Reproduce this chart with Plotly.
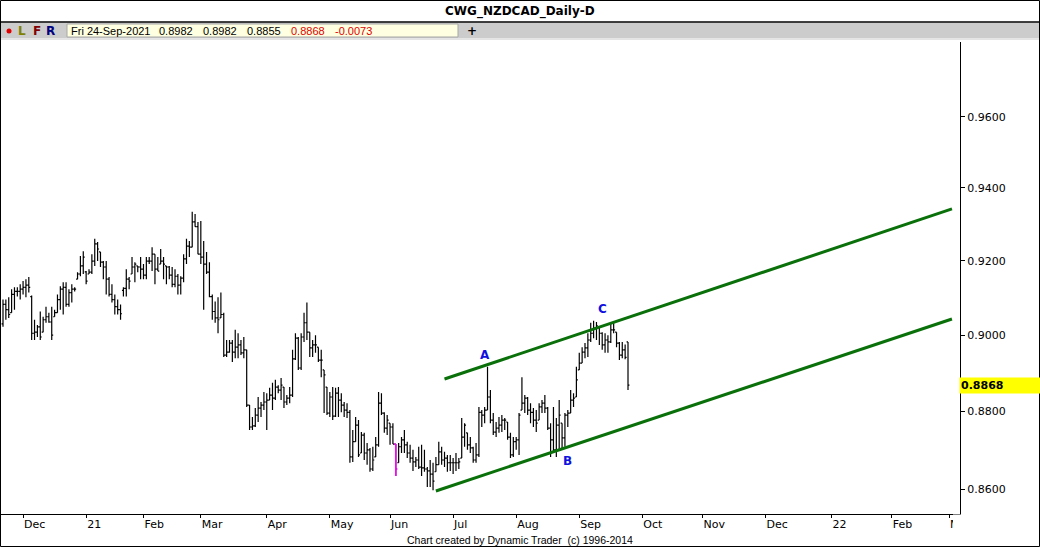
import math
import pandas as pd
import plotly.graph_objects as go

# ---------------- data ----------------
holidays = ["2020-12-25", "2021-01-01"]
first_day = "2020-11-20"
last_day = "2021-09-24"

opens = [
    0.9030, 0.9082, 0.9068, 0.9060, 0.9109, 0.9117, 0.9117, 0.9123, 0.9128, 0.9134,
    0.9103, 0.9005, 0.9008, 0.9022, 0.9008, 0.9041, 0.9049, 0.9035, 0.9049, 0.9060,
    0.9095, 0.9123, 0.9128, 0.9082, 0.9114, 0.9123, 0.9150, 0.9164, 0.9186, 0.9170,
    0.9164, 0.9169, 0.9199, 0.9246, 0.9224, 0.9196, 0.9183, 0.9150, 0.9109, 0.9095,
    0.9076, 0.9068, 0.9120, 0.9125, 0.9150, 0.9164, 0.9183, 0.9186, 0.9183, 0.9177,
    0.9161, 0.9199, 0.9199, 0.9218, 0.9177, 0.9191, 0.9199, 0.9186, 0.9183, 0.9161,
    0.9136, 0.9158, 0.9134, 0.9153, 0.9205, 0.9240, 0.9237, 0.9306, 0.9293, 0.9218,
    0.9210, 0.9191, 0.9169, 0.9103, 0.9063, 0.9046, 0.9046, 0.9055, 0.8947, 0.8955,
    0.8979, 0.8955, 0.8968, 0.8974, 0.8953, 0.8961, 0.8816, 0.8759, 0.8762, 0.8790,
    0.8808, 0.8816, 0.8824, 0.8829, 0.8842, 0.8834, 0.8863, 0.8855, 0.8863, 0.8824,
    0.8834, 0.8842, 0.8937, 0.8992, 0.8913, 0.8995, 0.9033, 0.9008, 0.8966, 0.8974,
    0.8968, 0.8934, 0.8908, 0.8863, 0.8795, 0.8837, 0.8787, 0.8847, 0.8829, 0.8816,
    0.8803, 0.8797, 0.8682, 0.8721, 0.8764, 0.8692, 0.8738, 0.8692, 0.8700, 0.8651,
    0.8682, 0.8713, 0.8821, 0.8795, 0.8756, 0.8769, 0.8759, 0.8715, 0.8667, 0.8708,
    0.8726, 0.8713, 0.8692, 0.8679, 0.8669, 0.8674, 0.8656, 0.8654, 0.8651, 0.8646,
    0.8638, 0.8644, 0.8662, 0.8695, 0.8674, 0.8679, 0.8667, 0.8667, 0.8667, 0.8667,
    0.8679, 0.8733, 0.8744, 0.8713, 0.8705, 0.8674, 0.8687, 0.8797, 0.8790, 0.8803,
    0.8837, 0.8777, 0.8746, 0.8756, 0.8764, 0.8777, 0.8772, 0.8733, 0.8687, 0.8721,
    0.8726, 0.8803, 0.8821, 0.8834, 0.8803, 0.8797, 0.8777, 0.8777, 0.8811, 0.8821,
    0.8808, 0.8756, 0.8726, 0.8700, 0.8764, 0.8769, 0.8731, 0.8790, 0.8795, 0.8829,
    0.8837, 0.8908, 0.8926, 0.8955, 0.8966, 0.8987, 0.9005, 0.9019, 0.9022, 0.9005,
    0.8974, 0.8987, 0.8982, 0.9014, 0.9008, 0.8979, 0.8947, 0.8961, 0.8982,
]
highs = [
    0.9095, 0.9095, 0.9101, 0.9123, 0.9128, 0.9128, 0.9136, 0.9145, 0.9150, 0.9156,
    0.9106, 0.9041, 0.9027, 0.9063, 0.9049, 0.9076, 0.9060, 0.9076, 0.9068, 0.9109,
    0.9131, 0.9142, 0.9142, 0.9123, 0.9136, 0.9128, 0.9169, 0.9213, 0.9226, 0.9172,
    0.9177, 0.9218, 0.9260, 0.9251, 0.9224, 0.9199, 0.9199, 0.9156, 0.9136, 0.9109,
    0.9095, 0.9082, 0.9128, 0.9177, 0.9156, 0.9210, 0.9196, 0.9186, 0.9210, 0.9191,
    0.9210, 0.9210, 0.9237, 0.9218, 0.9210, 0.9232, 0.9210, 0.9186, 0.9186, 0.9183,
    0.9177, 0.9164, 0.9158, 0.9218, 0.9260, 0.9254, 0.9334, 0.9328, 0.9306, 0.9309,
    0.9254, 0.9224, 0.9196, 0.9109, 0.9090, 0.9101, 0.9114, 0.9060, 0.8987, 0.8987,
    0.8987, 0.9014, 0.9005, 0.8987, 0.8995, 0.8961, 0.8816, 0.8785, 0.8808, 0.8837,
    0.8824, 0.8850, 0.8847, 0.8861, 0.8874, 0.8882, 0.8868, 0.8887, 0.8863, 0.8842,
    0.8863, 0.8961, 0.9005, 0.8995, 0.9005, 0.9060, 0.9087, 0.9008, 0.8987, 0.9000,
    0.8968, 0.8961, 0.8908, 0.8863, 0.8850, 0.8863, 0.8861, 0.8863, 0.8847, 0.8824,
    0.8821, 0.8803, 0.8751, 0.8785, 0.8777, 0.8746, 0.8744, 0.8718, 0.8705, 0.8708,
    0.8733, 0.8850, 0.8847, 0.8797, 0.8790, 0.8769, 0.8769, 0.8715, 0.8718, 0.8733,
    0.8751, 0.8721, 0.8713, 0.8700, 0.8682, 0.8708, 0.8713, 0.8700, 0.8656, 0.8674,
    0.8667, 0.8682, 0.8721, 0.8708, 0.8695, 0.8687, 0.8687, 0.8679, 0.8692, 0.8679,
    0.8782, 0.8769, 0.8744, 0.8733, 0.8708, 0.8718, 0.8811, 0.8803, 0.8811, 0.8916,
    0.8855, 0.8795, 0.8772, 0.8785, 0.8790, 0.8782, 0.8772, 0.8744, 0.8733, 0.8733,
    0.8795, 0.8889, 0.8842, 0.8837, 0.8821, 0.8808, 0.8803, 0.8821, 0.8829, 0.8842,
    0.8811, 0.8769, 0.8811, 0.8782, 0.8829, 0.8769, 0.8795, 0.8803, 0.8855, 0.8847,
    0.8916, 0.8953, 0.8968, 0.8979, 0.9005, 0.9033, 0.9038, 0.9035, 0.9022, 0.9008,
    0.9005, 0.9000, 0.9035, 0.9035, 0.9008, 0.8982, 0.8982, 0.8975, 0.8982,
]
lows = [
    0.9022, 0.9041, 0.9046, 0.9060, 0.9068, 0.9103, 0.9095, 0.9109, 0.9101, 0.9114,
    0.8987, 0.8987, 0.8995, 0.8987, 0.9008, 0.9033, 0.9033, 0.8987, 0.9049, 0.9060,
    0.9068, 0.9055, 0.9076, 0.9076, 0.9087, 0.9117, 0.9150, 0.9158, 0.9164, 0.9136,
    0.9164, 0.9164, 0.9186, 0.9199, 0.9183, 0.9150, 0.9109, 0.9103, 0.9087, 0.9055,
    0.9055, 0.9041, 0.9103, 0.9103, 0.9123, 0.9164, 0.9142, 0.9169, 0.9150, 0.9150,
    0.9150, 0.9191, 0.9172, 0.9136, 0.9172, 0.9191, 0.9150, 0.9136, 0.9150, 0.9128,
    0.9128, 0.9109, 0.9109, 0.9142, 0.9191, 0.9210, 0.9237, 0.9293, 0.9218, 0.9191,
    0.9068, 0.9164, 0.9101, 0.9041, 0.9033, 0.9005, 0.9046, 0.8942, 0.8942, 0.8953,
    0.8929, 0.8939, 0.8939, 0.8947, 0.8939, 0.8811, 0.8751, 0.8751, 0.8759, 0.8772,
    0.8785, 0.8803, 0.8751, 0.8829, 0.8803, 0.8829, 0.8847, 0.8829, 0.8808, 0.8816,
    0.8821, 0.8837, 0.8934, 0.8908, 0.8908, 0.8982, 0.8987, 0.8942, 0.8942, 0.8953,
    0.8929, 0.8889, 0.8795, 0.8790, 0.8785, 0.8777, 0.8785, 0.8785, 0.8797, 0.8785,
    0.8782, 0.8667, 0.8669, 0.8721, 0.8682, 0.8692, 0.8674, 0.8662, 0.8644, 0.8646,
    0.8682, 0.8708, 0.8790, 0.8744, 0.8738, 0.8713, 0.8715, 0.8633, 0.8667, 0.8692,
    0.8692, 0.8679, 0.8667, 0.8646, 0.8656, 0.8651, 0.8633, 0.8644, 0.8605, 0.8605,
    0.8597, 0.8644, 0.8662, 0.8662, 0.8656, 0.8644, 0.8646, 0.8638, 0.8646, 0.8651,
    0.8679, 0.8708, 0.8700, 0.8692, 0.8667, 0.8667, 0.8682, 0.8759, 0.8769, 0.8803,
    0.8769, 0.8738, 0.8733, 0.8744, 0.8746, 0.8751, 0.8726, 0.8679, 0.8682, 0.8700,
    0.8687, 0.8803, 0.8795, 0.8790, 0.8769, 0.8759, 0.8746, 0.8777, 0.8795, 0.8795,
    0.8751, 0.8682, 0.8692, 0.8682, 0.8700, 0.8705, 0.8708, 0.8759, 0.8795, 0.8811,
    0.8837, 0.8908, 0.8926, 0.8939, 0.8942, 0.8982, 0.8992, 0.8987, 0.8974, 0.8961,
    0.8953, 0.8953, 0.8979, 0.9005, 0.8968, 0.8934, 0.8939, 0.8936, 0.8855,
]
closes = [
    0.9082, 0.9068, 0.9055, 0.9109, 0.9117, 0.9117, 0.9123, 0.9128, 0.9134, 0.9128,
    0.9005, 0.9008, 0.9022, 0.8995, 0.9041, 0.9049, 0.9035, 0.9000, 0.9060, 0.9095,
    0.9123, 0.9128, 0.9082, 0.9114, 0.9123, 0.9123, 0.9164, 0.9186, 0.9210, 0.9145,
    0.9169, 0.9199, 0.9246, 0.9232, 0.9196, 0.9183, 0.9150, 0.9109, 0.9095, 0.9076,
    0.9068, 0.9057, 0.9125, 0.9150, 0.9145, 0.9183, 0.9191, 0.9183, 0.9177, 0.9161,
    0.9199, 0.9199, 0.9218, 0.9177, 0.9172, 0.9199, 0.9191, 0.9183, 0.9161, 0.9136,
    0.9158, 0.9134, 0.9153, 0.9205, 0.9240, 0.9237, 0.9306, 0.9293, 0.9218, 0.9210,
    0.9191, 0.9169, 0.9103, 0.9063, 0.9046, 0.9041, 0.9055, 0.8947, 0.8955, 0.8979,
    0.8955, 0.8968, 0.8974, 0.8953, 0.8961, 0.8816, 0.8759, 0.8762, 0.8790, 0.8808,
    0.8816, 0.8824, 0.8829, 0.8842, 0.8834, 0.8863, 0.8855, 0.8868, 0.8824, 0.8834,
    0.8842, 0.8937, 0.8992, 0.8913, 0.8995, 0.9033, 0.9008, 0.8966, 0.8974, 0.8974,
    0.8934, 0.8934, 0.8895, 0.8795, 0.8837, 0.8787, 0.8847, 0.8829, 0.8816, 0.8803,
    0.8797, 0.8682, 0.8721, 0.8764, 0.8687, 0.8738, 0.8692, 0.8700, 0.8651, 0.8674,
    0.8713, 0.8821, 0.8795, 0.8756, 0.8777, 0.8759, 0.8715, 0.8651, 0.8708, 0.8726,
    0.8713, 0.8692, 0.8679, 0.8669, 0.8674, 0.8656, 0.8654, 0.8651, 0.8646, 0.8638,
    0.8620, 0.8662, 0.8695, 0.8674, 0.8679, 0.8667, 0.8667, 0.8667, 0.8667, 0.8669,
    0.8733, 0.8764, 0.8713, 0.8705, 0.8674, 0.8687, 0.8797, 0.8790, 0.8803, 0.8837,
    0.8777, 0.8746, 0.8756, 0.8764, 0.8777, 0.8777, 0.8733, 0.8687, 0.8721, 0.8726,
    0.8790, 0.8821, 0.8834, 0.8803, 0.8797, 0.8777, 0.8769, 0.8811, 0.8821, 0.8808,
    0.8756, 0.8726, 0.8700, 0.8764, 0.8790, 0.8731, 0.8790, 0.8795, 0.8829, 0.8834,
    0.8882, 0.8926, 0.8955, 0.8966, 0.8987, 0.9005, 0.9019, 0.9025, 0.9005, 0.8974,
    0.8987, 0.8982, 0.9014, 0.9014, 0.8979, 0.8947, 0.8961, 0.8941, 0.8868,
]
highlight_bar = 137  # bar drawn in magenta

month_ticks = ["2020-12-01", "2021-01-04", "2021-02-01", "2021-03-01", "2021-04-01",
               "2021-05-03", "2021-06-01", "2021-07-01", "2021-08-02", "2021-09-01",
               "2021-10-01", "2021-11-01", "2021-12-01", "2022-01-03", "2022-02-01",
               "2022-03-01"]
month_labels = ["Dec", "21", "Feb", "Mar", "Apr", "May", "Jun", "Jul", "Aug", "Sep",
                "Oct", "Nov", "Dec", "22", "Feb", "Mar"]
price_ticks = [0.86, 0.88, 0.90, 0.92, 0.94, 0.96]

upper_line_dates = ["2021-06-28", "2022-03-02"]
upper_line_prices = [0.8884, 0.9342]
lower_line_dates = ["2021-06-23", "2022-03-02"]
lower_line_prices = [0.8595, 0.9043]

wave_labels = ["A", "B", "C"]
wave_dates = ["2021-07-16", "2021-08-26", "2021-09-13"]
wave_prices = [0.8947, 0.8672, 0.9071]

chart_title = "CWG_NZDCAD_Daily-D"
footer_text = "Chart created by Dynamic Trader  (c) 1996-2014"

# ---------------- build ----------------
dates = pd.bdate_range(first_day, last_day)
dates = dates[~dates.isin(pd.to_datetime(holidays))]

W, H = 1040, 547
ML, MR, MT, MB = 0, 80, 42, 33
PW, PH = W - ML - MR, H - MT - MB


def px(x):
    return (x - ML) / PW


def py(y):
    return (H - MB - y) / PH


BAR = dict(color="black", width=1.2)
fig = go.Figure()
fig.add_trace(go.Ohlc(
    x=dates, open=opens, high=highs, low=lows, close=closes,
    increasing=dict(line=BAR), decreasing=dict(line=BAR),
    tickwidth=0.5, hoverinfo="skip", showlegend=False))

hb = highlight_bar
MAG = dict(color="#ff00ff", width=1.5)
fig.add_trace(go.Ohlc(
    x=[dates[hb], dates[hb + 1]],
    open=[opens[hb], None], high=[highs[hb], None],
    low=[lows[hb], None], close=[closes[hb], None],
    increasing=dict(line=MAG), decreasing=dict(line=MAG),
    tickwidth=0.5, hoverinfo="skip", showlegend=False))

GREEN = "#0a700a"
for xs, ys in ((upper_line_dates, upper_line_prices), (lower_line_dates, lower_line_prices)):
    fig.add_trace(go.Scatter(x=xs, y=ys, mode="lines",
                             line=dict(color=GREEN, width=3),
                             hoverinfo="skip", showlegend=False))

BOLD = "DejaVu Sans"
annotations = []
# annotations on a log axis take log10 positions
for t, d, p in zip(wave_labels, wave_dates, wave_prices):
    annotations.append(dict(x=d, y=math.log10(p), xref="x", yref="y", text=f"<b>{t}</b>",
                            showarrow=False, xanchor="center", yanchor="middle",
                            font=dict(family=BOLD, size=12, color="#1010e0")))


def paper_text(x, y, text, font, xanchor="center"):
    return dict(x=px(x), y=py(y), xref="paper", yref="paper", text=text,
                showarrow=False, xanchor=xanchor, yanchor="middle", font=font)


# title
annotations.append(paper_text(520, 11, f"<b>{chart_title}</b>",
                              dict(family=BOLD, size=12, color="black")))
# info bar
info_font = dict(family="Liberation Sans", size=11, color="black")
red_font = dict(family="Liberation Sans", size=11, color="#e00000")
change = closes[-1] - closes[-2]
info_items = [
    (69, dates[-1].strftime("%a %d-%b-%Y"), info_font),
    (157, f"{opens[-1]:.4f}", info_font),
    (201, f"{highs[-1]:.4f}", info_font),
    (245, f"{lows[-1]:.4f}", info_font),
    (289, f"{closes[-1]:.4f}", red_font),
    (333, f"{change:.4f}", red_font),
]
for x, t, f in info_items:
    annotations.append(paper_text(x, 31, t, f, xanchor="left"))
for x, t, c in ((22, "L", "#808000"), (37, "F", "#800000"), (50, "R", "#000080"), (472, "+", "black")):
    annotations.append(paper_text(x, 31, f"<b>{t}</b>", dict(family=BOLD, size=12, color=c)))
# last price label
annotations.append(dict(x=px(959), y=math.log10(closes[-1]), xref="paper", yref="y",
                        text=f"<b>{closes[-1]:.4f}</b>", showarrow=False,
                        xanchor="left", yanchor="middle", align="left",
                        width=79, height=13, bgcolor="#ffff00", borderpad=1,
                        font=dict(family=BOLD, size=11, color="black")))
# footer
annotations.append(paper_text(520, 540, footer_text,
                              dict(family="Liberation Sans", size=10.5, color="black")))

shapes = [
    # grey info bar
    dict(type="rect", xref="paper", yref="paper", x0=px(1), x1=px(1039), y0=py(38.5), y1=py(22.5),
         fillcolor="#cccccc", line=dict(width=0), layer="above"),
    dict(type="rect", xref="paper", yref="paper", x0=px(67), x1=px(458), y0=py(37), y1=py(24),
         fillcolor="#ffffe1", line=dict(color="#a8a8a8", width=1), layer="above"),
    dict(type="line", xref="paper", yref="paper", x0=px(0), x1=px(1040), y0=py(22), y1=py(22),
         line=dict(color="black", width=1.5), layer="above"),
    dict(type="line", xref="paper", yref="paper", x0=px(0), x1=px(1040), y0=py(39.5), y1=py(39.5),
         line=dict(color="#e4e4e4", width=1), layer="above"),
    dict(type="circle", xref="paper", yref="paper", x0=px(6.5), x1=px(11.5), y0=py(33.5), y1=py(28.5),
         fillcolor="#e00000", line=dict(width=0), layer="above"),
    # mask that clips the last month label
    dict(type="rect", xref="paper", yref="paper", x0=px(953), x1=px(1038.5), y0=py(537), y1=py(514.5),
         fillcolor="white", line=dict(width=0), layer="above"),
    # window border
    dict(type="rect", xref="paper", yref="paper", x0=px(0.5), x1=px(1039.5), y0=py(546.5), y1=py(0.5),
         line=dict(color="black", width=1), fillcolor="rgba(0,0,0,0)", layer="above"),
]

fig.update_layout(
    width=W, height=H,
    margin=dict(l=ML, r=MR, t=MT, b=MB, pad=0),
    paper_bgcolor="white", plot_bgcolor="white",
    showlegend=False,
    annotations=annotations,
    shapes=shapes,
    xaxis=dict(
        type="date",
        range=["2020-11-18 22:54", "2022-03-04 19:12"],
        rangebreaks=[dict(bounds=["sat", "mon"]), dict(values=holidays)],
        rangeslider=dict(visible=False),
        tickmode="array", tickvals=month_ticks, ticktext=month_labels,
        ticks="outside", ticklen=3, tickcolor="black", tickwidth=1,
        ticklabelposition="outside right",
        tickfont=dict(family=BOLD, size=11, color="black"),
        showline=True, linecolor="black", linewidth=1,
        showgrid=False, zeroline=False, fixedrange=True,
    ),
    yaxis=dict(
        type="log", side="right",
        range=[-0.068709, -0.008144],
        tickmode="array", tickvals=price_ticks, tickformat=".4f",
        ticks="outside", ticklen=4, tickcolor="black", tickwidth=1,
        tickfont=dict(family=BOLD, size=11, color="black"),
        showline=True, linecolor="black", linewidth=1,
        showgrid=False, zeroline=False, fixedrange=True,
    ),
)

fig.write_html(
    "out.html",
    config={"displayModeBar": False},
    post_script="document.body.style.margin='0';document.body.style.padding='0';"
                "document.body.style.overflow='hidden';",
)
